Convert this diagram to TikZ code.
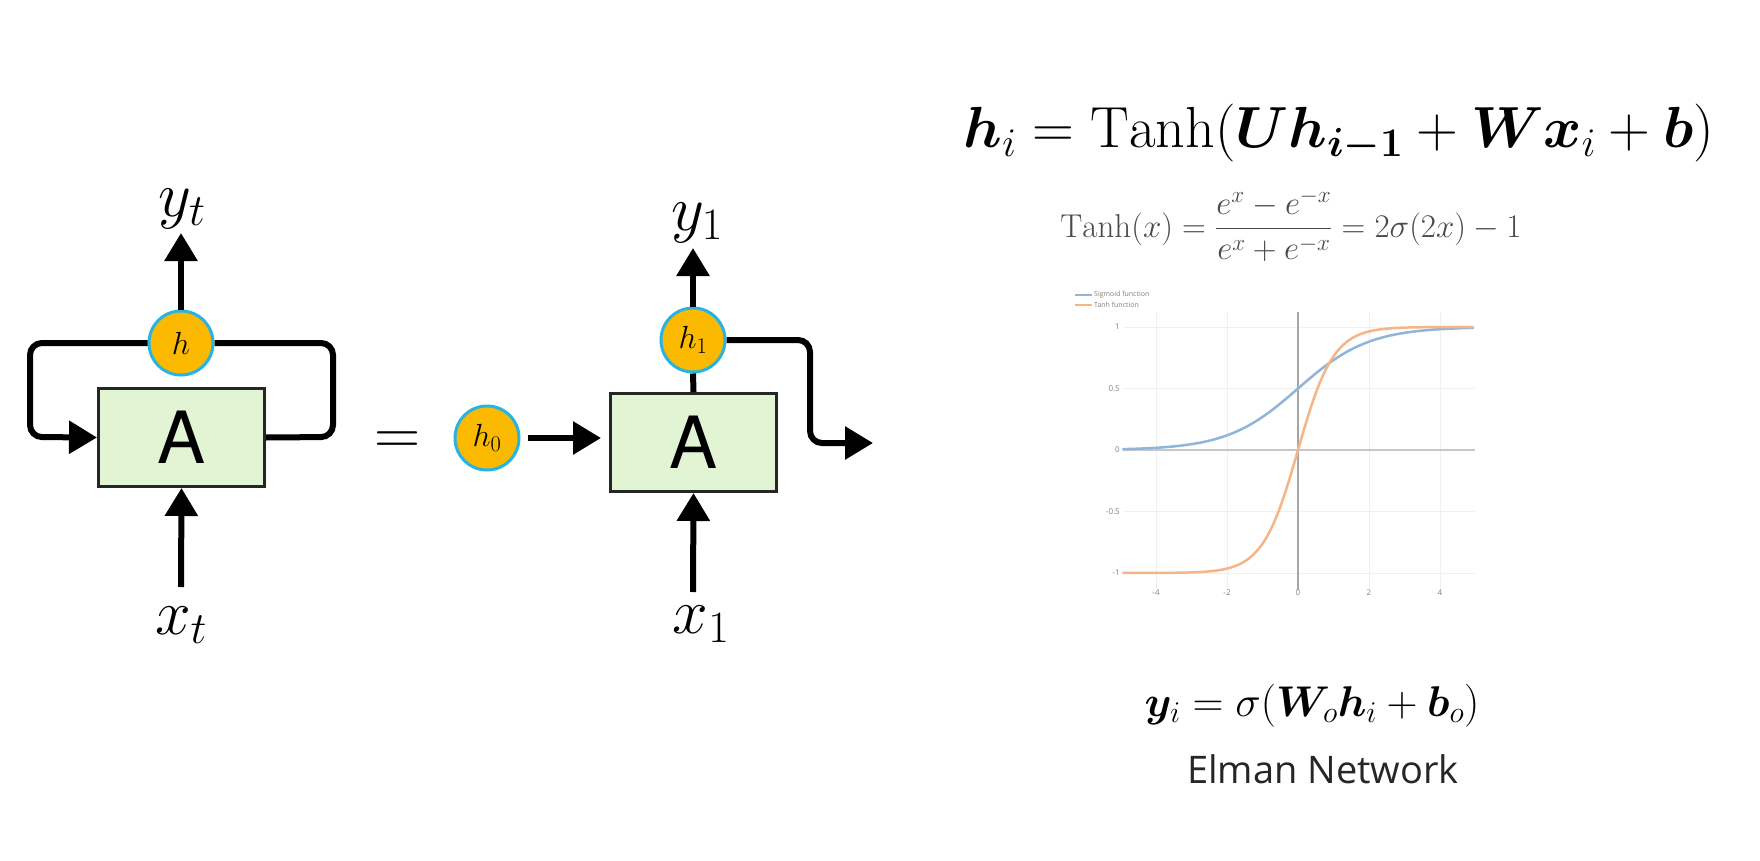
\RequirePackage{fix-cm}
\documentclass[tikz,border=0pt]{standalone}
\usepackage{amsmath,bm}
\usepackage{fontspec}
\newfontfamily\heros{TeX Gyre Heros}
\newfontfamily\opensans{Open Sans}
\usetikzlibrary{arrows.meta}
\definecolor{hfill}{HTML}{FBB900}
\definecolor{hborder}{HTML}{27B4E5}
\definecolor{boxfill}{HTML}{E1F5D4}
\definecolor{sigblue}{HTML}{8FB5DA}
\definecolor{tanhor}{HTML}{F6B587}
\definecolor{eqgray}{HTML}{4A4A4A}
\tikzset{
  hnode/.style={circle, fill=hfill, draw=hborder, line width=3pt, minimum size=64pt, inner sep=0pt, font=\fontsize{32}{36}\selectfont},
  abox/.style={draw=black!85, fill=boxfill, line width=3pt, minimum width=166pt, minimum height=98pt, inner sep=0pt, font=\heros\fontsize{72}{80}\selectfont},
  arr/.style={line width=6pt, -{Triangle[length=28pt,width=32pt]}},
  conn/.style={line width=6pt},
  mlabel/.style={inner sep=0pt, font=\fontsize{64}{70}\selectfont, anchor=base},
  gridline/.style={line width=1pt, black!6},
  ticklab/.style={inner sep=0pt, font=\opensans\fontsize{8}{9}\selectfont, text=black!50},
  leglab/.style={inner sep=0pt, anchor=west, font=\opensans\fontsize{7}{8}\selectfont, text=black!50},
}
\begin{document}
\begin{tikzpicture}[x=1pt,y=-1pt]
\useasboundingbox[fill=white] (0,0) rectangle (1760,861);

% ---------- left: folded RNN ----------
\node[abox] (A1) at (181.5,437.5) {A};
\node[hnode] (h) at (181,343) {$h$};
\node[mlabel] (yt) at (182,216) {$y_t$};
\node[mlabel] (xt) at (181,634) {$x_t$};
\coordinate (ytip) at (181,233);
\coordinate (xbot) at (181,587);
\draw[arr] (h.north) -- (ytip);
\draw[arr] (xbot) -- (A1.south);
\draw[conn, rounded corners=12pt] (A1.east) -- (333,437) -- (333,343) -- (h.east);
\draw[arr, rounded corners=12pt] (h.west) -- (30,343) -- (30,437) -- (A1.west);

\node[mlabel] (eqs) at (398,454) {$=$};

% ---------- right: unrolled step ----------
\node[hnode] (h0) at (487,438) {$h_0$};
\node[abox] (A2) at (693.5,442.5) {A};
\node[hnode] (h1) at (693,340) {$h_1$};
\node[mlabel] (y1) at (697,230) {$y_1$};
\node[mlabel] (x1) at (701,633) {$x_1$};
\coordinate (y1tip) at (693,248);
\coordinate (x1bot) at (693,592);
\coordinate (hout) at (873,443);
\draw[arr, shorten <=7pt, shorten >=8pt] (h0.east) -- (h0.east -| A2.west);
\draw[conn] (h1.south) -- (A2.north);
\draw[arr] (h1.north) -- (y1tip);
\draw[arr] (x1bot) -- (A2.south);
\draw[arr, rounded corners=12pt] (h1.east) -- (810,340) -- (810,443) -- (hout);

% ---------- equations ----------
\node[anchor=base, inner sep=0pt, font=\fontsize{58}{64}\selectfont] (eq1) at (1339,148)
  {$\bm{h}_i = \operatorname{Tanh}(\bm{U}\bm{h}_{\bm{i-1}} + \bm{W}\bm{x}_i + \bm{b})$};
\node[anchor=base, inner sep=0pt, text=eqgray, font=\fontsize{33}{36}\selectfont] (eq2) at (1291,237)
  {$\operatorname{Tanh}(x) = \dfrac{e^x - e^{-x}}{e^x + e^{-x}} = 2\sigma(2x) - 1$};
\node[anchor=base, inner sep=0pt, font=\fontsize{43}{48}\selectfont] (eq3) at (1312,716)
  {$\bm{y}_i = \sigma(\bm{W}_o\bm{h}_i + \bm{b}_o)$};
\node[anchor=base, inner sep=0pt, text=black!85, font=\opensans\fontsize{38}{44}\selectfont] (elman) at (1323,783) {Elman Network};

% ---------- plot ----------
\foreach \gx in {-4,-2,2,4} \draw[gridline] ({1298+35.5*\gx},312) -- ({1298+35.5*\gx},588);
\foreach \gy in {1,0.5,-0.5,-1} \draw[gridline] (1123,{450-123*\gy}) -- (1475,{450-123*\gy});
\draw[line width=2.5pt, black!22] (1123,450) -- (1475,450);
\draw[line width=1.5pt, black!35] (1298,312) -- (1298,590);
\draw[sigblue, line width=2.5pt] plot[domain=-4.95:4.95, samples=120, smooth] ({1298+35.5*\x}, {450-123/(1+exp(-\x))});
\draw[tanhor, line width=2.5pt] plot[domain=-4.95:4.95, samples=120, smooth] ({1298+35.5*\x}, {450-123*tanh(\x)});
\foreach \ty/\tl in {1/1,0.5/0.5,0/0,-0.5/-0.5,-1/-1} \node[ticklab, anchor=east] at (1120,{450-123*\ty}) {\tl};
\foreach \tx in {-4,-2,0,2,4} \node[ticklab] at ({1298+35.5*\tx},593) {\tx};
\draw[sigblue, line width=2pt] (1075,295) -- (1092,295);
\draw[tanhor, line width=2pt] (1075,305) -- (1092,305);
\node[leglab] at (1094,295) {Sigmoid function};
\node[leglab] at (1094,305) {Tanh function};
\end{tikzpicture}
\end{document}
